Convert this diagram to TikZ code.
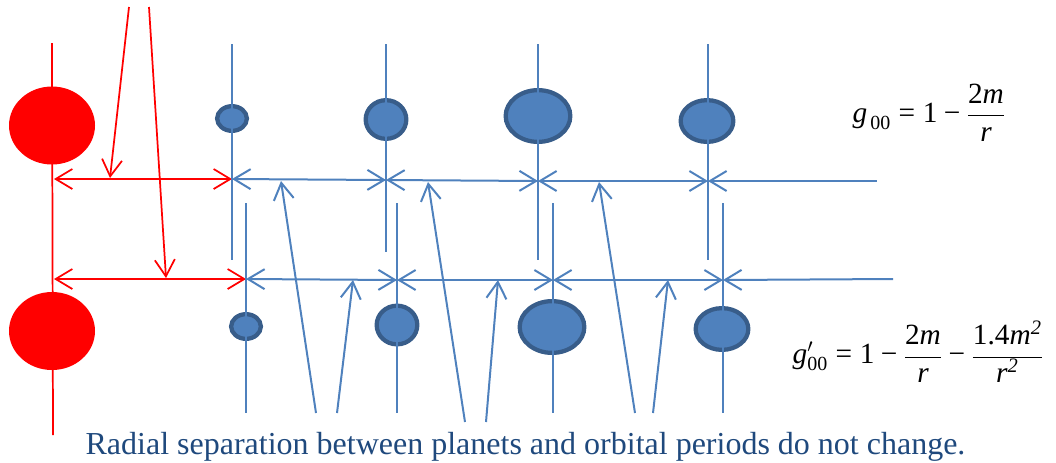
\documentclass[tikz,border=0pt]{standalone}
\usepackage{fontspec}
\setmainfont{Liberation Serif}
\usetikzlibrary{arrows.meta,shapes.geometric}
\definecolor{planetblue}{HTML}{4F81BD}
\definecolor{planetrim}{HTML}{385D8A}
\definecolor{notecolor}{HTML}{1F497D}
\newcommand{\mvar}[1]{\mbox{\itshape #1}}
\newcommand{\mnum}[1]{\mbox{\fontsize{15}{18}\selectfont #1}}
\newcommand{\meq}{\mathrel{\mbox{=}}}
\newcommand{\mminus}{\mathbin{\mbox{−}}}
\tikzset{sun/.style={ellipse,fill=red,inner sep=0pt,minimum width=64.5pt,minimum height=58.5pt},
  planet/.style={ellipse,draw=planetrim,fill=planetblue,line width=3.2pt,inner sep=0pt},
  psmall/.style={planet,minimum width=22.3pt,minimum height=18.5pt},
  pmedium/.style={planet,minimum width=30.5pt,minimum height=29pt},
  plarge/.style={planet,minimum width=48.5pt,minimum height=38.8pt},
  pwide/.style={planet,minimum width=39.5pt,minimum height=31.3pt},
  redline/.style={draw=red,line width=1.3pt},
  blueline/.style={draw=planetblue,line width=1.5pt},
  formula/.style={inner sep=0pt,font=\fontsize{22}{26}\selectfont},
  note/.style={inner sep=0pt,text=notecolor,font=\fontsize{24}{28}\selectfont}}

\begin{document}
\begin{tikzpicture}[x=0.75pt,y=-0.75pt,>={Straight Barb[length=12.5pt,width=15pt]}]
  \useasboundingbox (0,0) rectangle (1056,462);

  \node (sun)  [sun] at (52,125.5) {};
  \node (sunb) [sun] at (52,331) {};

  % planets in the field g00
  \node (p1) [psmall]  at (232,118.5) {};
  \node (p2) [pmedium] at (386,119.5) {};
  \node (p3) [plarge]  at (538,116) {};
  \node (p4) [pwide]   at (707,121) {};
  % planets in the field g'00
  \node (q1) [psmall]  at (246,326.5) {};
  \node (q2) [pmedium] at (397,325) {};
  \node (q3) [plarge]  at (552,327) {};
  \node (q4) [pwide]   at (722,329) {};

  \node (gzero) [formula] at (929,113)
    {$\displaystyle \mvar{g}_{\,\mnum{00}}\meq\mbox{1}\mminus\frac{\mbox{2\itshape m}}{\mvar{r}}$};
  \node (gprime) [formula] at (918,352)
    {$\displaystyle \mvar{g}'_{\mnum{00}}\meq\mbox{1}\mminus\frac{\mbox{2\itshape m}}{\mvar{r}}\mminus\frac{\mbox{1.4\itshape m\textsuperscript{2}}}{\mbox{\itshape r\textsuperscript{2}}}$};
  \node (caption) [note,anchor=base] at (525.5,454)
    {Radial separation between planets and orbital periods do not change.};

  \coordinate (axtop) at (52,43);  \coordinate (axbot) at (53,435);
  \coordinate (ra) at (54,179);    \coordinate (rb) at (54,279);
  \coordinate (a1) at (232,179);   \coordinate (a2) at (386,180);
  \coordinate (a3) at (538,181);   \coordinate (a4) at (708,181);
  \coordinate (aend) at (877,181);
  \coordinate (b1) at (246,279);   \coordinate (b2) at (397,280);
  \coordinate (b3) at (553,280);   \coordinate (b4) at (723,280);
  \coordinate (bend) at (893,279);
  \coordinate (t1) at (232,44);    \coordinate (u1) at (232,260);
  \coordinate (t2) at (386,44);    \coordinate (u2) at (386,252);
  \coordinate (t3) at (538,44);    \coordinate (u3) at (538,260);
  \coordinate (t4) at (708,44);    \coordinate (u4) at (708,260);
  \coordinate (v1) at (246,203);   \coordinate (w1) at (246,413);
  \coordinate (v2) at (397,203);   \coordinate (w2) at (397,413);
  \coordinate (v3) at (553,203);   \coordinate (w3) at (553,413);
  \coordinate (v4) at (723,203);   \coordinate (w4) at (723,413);

  \path (axtop) edge[redline] (axbot)
        (ra) edge[redline,<->] (a1)
        (rb) edge[redline,<->] (b1)
        (129,7) coordinate (qa) edge[redline,->] (110,178)
        (149,7) coordinate (qb) edge[redline,->] (166,278);

  \path (t1) edge[blueline] (u1)  (t2) edge[blueline] (u2)
        (t3) edge[blueline] (u3)  (t4) edge[blueline] (u4)
        (v1) edge[blueline] (w1)  (v2) edge[blueline] (w2)
        (v3) edge[blueline] (w3)  (v4) edge[blueline] (w4);

  \path (a1) edge[blueline,<->] (a2)
        (a2) edge[blueline,<->] (a3)
        (a3) edge[blueline,<->] (a4)
        (a4) edge[blueline,<-] (aend)
        (b1) edge[blueline,<->] (b2)
        (b2) edge[blueline,<->] (b3)
        (b3) edge[blueline,<->] (b4)
        (b4) edge[blueline,<-] (bend);

  % the arrows from the caption
  \path (316,413) coordinate (f1) edge[blueline,->] (281,181)
        (337,413) coordinate (f2) edge[blueline,->] (353,280)
        (465,422) coordinate (f3) edge[blueline,->] (428,182)
        (486,422) coordinate (f4) edge[blueline,->] (498,280)
        (635,413) coordinate (f5) edge[blueline,->] (599,182)
        (653,413) coordinate (f6) edge[blueline,->] (668,280);
\end{tikzpicture}
\end{document}
